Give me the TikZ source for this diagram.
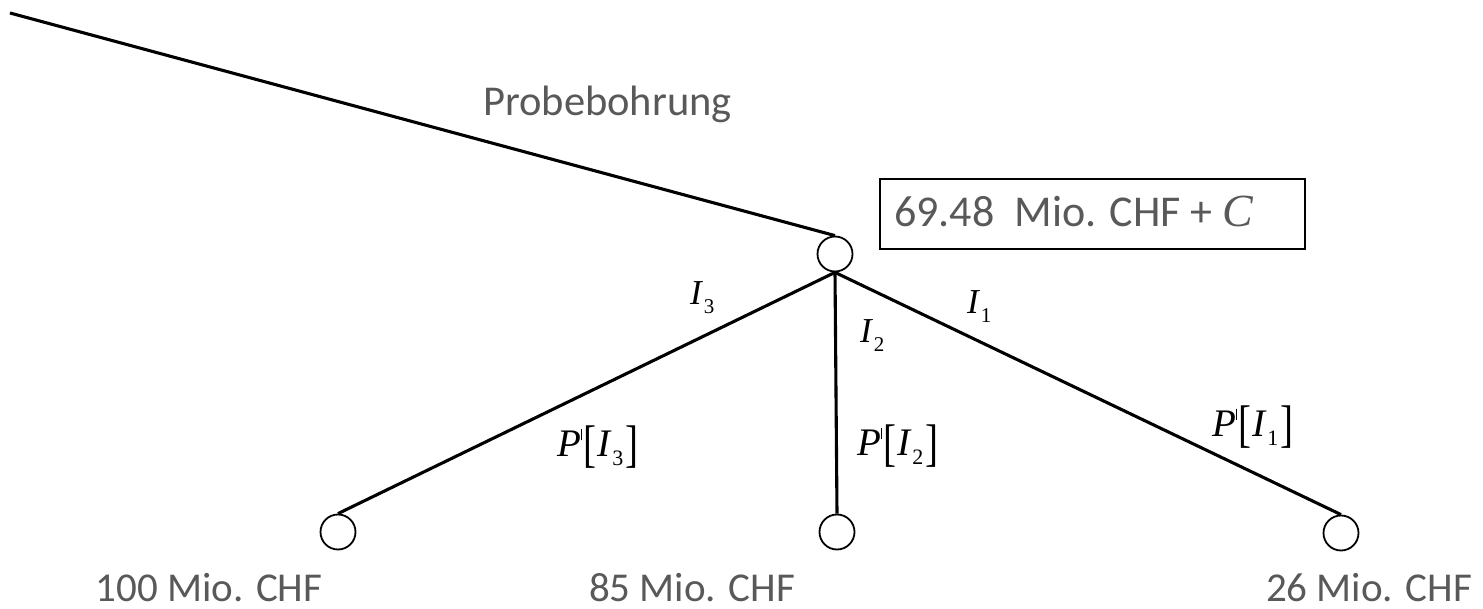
\documentclass[tikz,border=0pt]{standalone}
\usepackage{fontspec}
\setmainfont{Carlito}
\newfontfamily\tms{Liberation Serif}
\usepackage{graphicx}
\definecolor{txtgray}{HTML}{595959}
\newcommand\Ilab[2]{\textit{I}\kern0.02em\raisebox{-0.25em}{\fontsize{#2}{#2}\selectfont #1}}
\newcommand\primetick{\raisebox{0.4em}{\rule{1.2pt}{0.3em}}}
\newcommand\Plab[1]{\textit{P}\kern0.0em\primetick\kern0.03em\raisebox{-0.14em}{\scalebox{1}[1.32]{[}}\kern0.02em\Ilab{#1}{22}\kern0.04em\raisebox{-0.14em}{\scalebox{1}[1.32]{]}}}
\tikzset{
  chance/.style={draw, circle, minimum size=35pt, inner sep=0pt, line width=1.8pt},
  edge/.style={line width=3.1pt},
  sanslbl/.style={text=txtgray, font=\fontsize{41}{49}\selectfont, inner sep=0pt},
  ilbl/.style={font=\tms\fontsize{35}{38}\selectfont, inner sep=0pt, anchor=base west},
  plbl/.style={font=\tms\fontsize{39}{44}\selectfont, inner sep=0pt, anchor=base west},
}
\begin{document}
\begin{tikzpicture}[x=1pt,y=-1pt]
\useasboundingbox (0,0) rectangle (1483,609);
% nodes
\coordinate (start) at (10,13);
\node[chance] (c0) at (835,254) {};
\node[chance] (c1) at (338,532) {};
\node[chance] (c2) at (837,532) {};
\node[chance] (c3) at (1341,533) {};
% connectors
\draw[edge] (start) -- (c0.north);
\draw[edge] (c0.south) -- (c1.north);
\draw[edge] (c0.south) -- (c2.north);
\draw[edge] (c0.south) -- (c3.north);
% box
\node[draw, line width=2.2pt, minimum width=425pt, minimum height=70pt, anchor=north west, inner sep=0pt] (box) at (879,178) {};
\node[sanslbl, anchor=base west, font=\fontsize{44}{50}\selectfont] (boxtxt) at (894,227) {69.48\ \ Mio. CHF + {\tms\itshape\fontsize{46}{50}\selectfont C}};
% text labels
\node[sanslbl, anchor=base west, font=\fontsize{42.5}{49}\selectfont] (probe) at (483,116) {Probebohrung};
\node[sanslbl, anchor=base] (v1) at (209,601) {100 Mio. CHF};
\node[sanslbl, anchor=base] (v2) at (692,601) {85 Mio. CHF};
\node[sanslbl, anchor=base] (v3) at (1369,601) {26 Mio. CHF};
% branch labels
\node[ilbl] (i3) at (690,305) {\Ilab{3}{21}};
\node[ilbl] (i2) at (860,343) {\Ilab{2}{21}};
\node[ilbl] (i1) at (967,314) {\Ilab{1}{21}};
\node[plbl] (p3) at (557,456) {\Plab{3}};
\node[plbl] (p2) at (857,455) {\Plab{2}};
\node[plbl] (p1) at (1212,436) {\Plab{1}};
\end{tikzpicture}
\end{document}
